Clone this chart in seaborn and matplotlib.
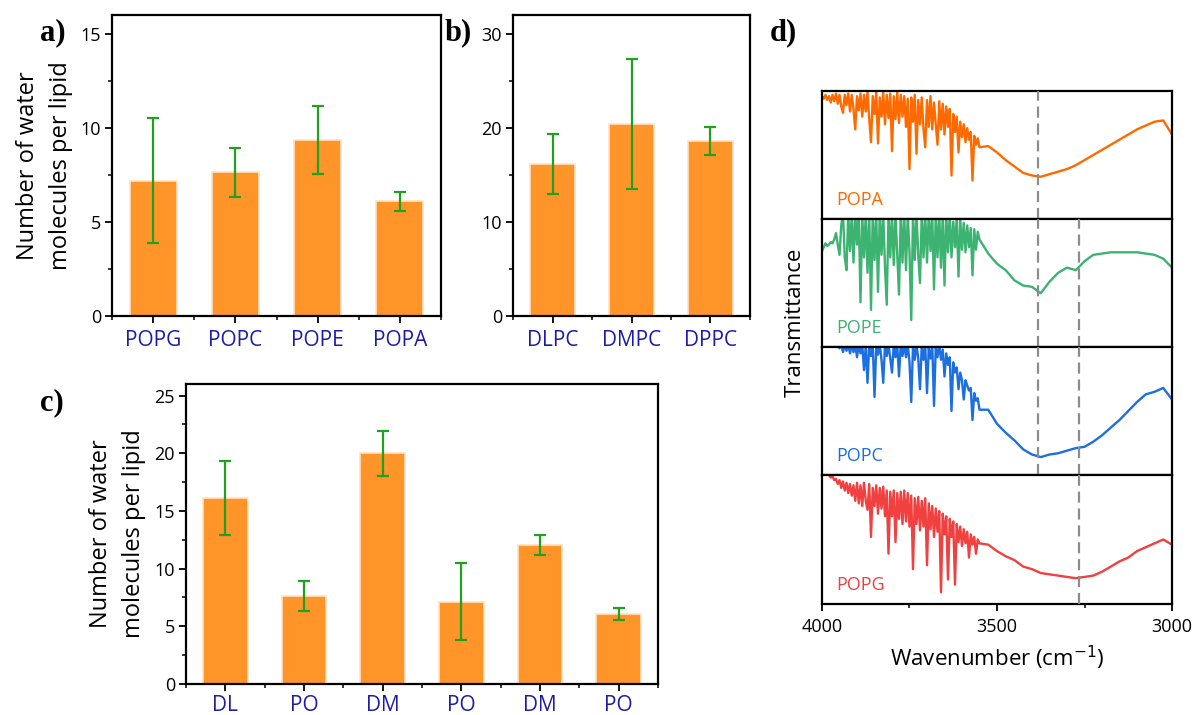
import numpy as np
import pandas as pd
import matplotlib
matplotlib.use('Agg')
import matplotlib.pyplot as plt
import seaborn as sns
from matplotlib.ticker import FixedLocator, MultipleLocator

# ---------------- data ----------------
a_labels = ['POPG', 'POPC', 'POPE', 'POPA']
a_values = [7.2, 7.65, 9.35, 6.1]
a_errors = [3.3, 1.3, 1.8, 0.5]

b_labels = ['DLPC', 'DMPC', 'DPPC']
b_values = [16.2, 20.4, 18.6]
b_errors = [3.2, 6.95, 1.45]

c_labels = ['DL', 'PO', 'DM', 'PO', 'DM', 'PO']
c_values = [16.15, 7.6, 20.0, 7.15, 12.05, 6.1]
c_errors = [3.2, 1.3, 1.95, 3.35, 0.85, 0.52]

# wavenumber sampling grid (cm-1)
wn_noisy = list(range(4000, 3549, -5))      # 91 points
wn_smooth = list(range(3525, 2999, -25))    # 22 points
wavenumber = wn_noisy + wn_smooth

# transmittance traces (relative, 0 = panel bottom, 1 = panel top)
popa_t = [0.96, 0.94, 0.97, 0.93, 0.96, 0.91, 0.97, 0.92, 0.98, 0.90,
          0.97, 0.88, 0.83, 0.97, 0.89, 0.98, 0.84, 0.97, 0.86, 0.70,
          0.96, 0.85, 0.98, 0.80, 0.97, 0.84, 0.99, 0.78, 0.60, 0.96,
          0.82, 0.99, 0.59, 0.95, 0.80, 0.99, 0.74, 0.97, 0.79, 0.98,
          0.53, 0.96, 0.78, 0.99, 0.75, 0.97, 0.80, 0.96, 0.72, 0.94,
          0.39, 0.95, 0.76, 0.97, 0.51, 0.93, 0.74, 0.95, 0.70, 0.56,
          0.93, 0.72, 0.96, 0.70, 0.91, 0.74, 0.58, 0.92, 0.70, 0.90,
          0.66, 0.88, 0.72, 0.86, 0.34, 0.82, 0.68, 0.80, 0.52, 0.76,
          0.64, 0.74, 0.60, 0.71, 0.62, 0.68, 0.30, 0.65, 0.58, 0.63,
          0.56,
          0.57, 0.52, 0.46, 0.41, 0.36, 0.34, 0.33, 0.35, 0.37, 0.39,
          0.42, 0.46, 0.50, 0.54, 0.58, 0.62, 0.66, 0.70, 0.73, 0.76,
          0.77, 0.66]
pope_t = [0.75, 0.78, 0.81, 0.79, 0.80, 0.82, 0.81, 0.84, 0.89, 0.80,
          0.72, 0.95, 1.04, 0.70, 0.60, 1.04, 0.75, 1.04, 0.66, 1.04,
          0.80, 1.04, 0.35, 1.04, 0.70, 1.04, 0.58, 1.04, 0.29, 1.04,
          0.68, 1.04, 0.43, 1.04, 0.72, 1.04, 0.62, 0.33, 1.04, 0.70,
          1.04, 0.64, 1.04, 0.72, 0.41, 1.04, 0.66, 1.04, 0.60, 1.04,
          0.74, 0.21, 1.04, 0.68, 1.04, 0.72, 0.50, 1.04, 0.70, 1.04,
          0.66, 1.04, 0.75, 1.04, 0.45, 1.04, 0.70, 1.04, 0.62, 1.04,
          0.48, 1.04, 0.74, 1.04, 0.70, 0.98, 0.78, 1.02, 0.55, 1.00,
          0.76, 0.97, 0.74, 0.95, 0.78, 0.93, 0.56, 0.92, 0.76, 0.90,
          0.84,
          0.73, 0.65, 0.60, 0.52, 0.48, 0.47, 0.42, 0.51, 0.58, 0.62,
          0.60, 0.67, 0.72, 0.73, 0.74, 0.74, 0.74, 0.74, 0.73, 0.72,
          0.69, 0.62]
popc_t = [1.08, 1.08, 1.07, 1.07, 1.06, 1.05, 1.04, 1.03, 1.02, 1.01,
          0.99, 1.02, 0.96, 1.02, 0.97, 1.02, 0.95, 1.02, 0.96, 1.02,
          0.92, 1.02, 0.95, 1.02, 0.82, 1.01, 0.72, 1.02, 0.93, 1.02,
          0.61, 1.00, 0.94, 1.02, 0.90, 0.72, 1.02, 0.93, 1.02, 0.91,
          0.80, 1.02, 0.92, 1.02, 0.77, 1.02, 0.93, 1.02, 0.92, 1.02,
          0.88, 0.57, 1.01, 0.90, 1.02, 0.91, 0.67, 1.01, 0.90, 1.02,
          0.64, 0.99, 0.91, 1.02, 0.54, 1.00, 0.92, 1.02, 0.90, 0.98,
          0.77, 0.95, 0.86, 0.92, 0.50, 0.88, 0.80, 0.84, 0.67, 0.80,
          0.74, 0.59, 0.74, 0.70, 0.66, 0.68, 0.43, 0.64, 0.58, 0.60,
          0.51,
          0.51, 0.40, 0.33, 0.27, 0.20, 0.16, 0.14, 0.16, 0.17, 0.19,
          0.21, 0.22, 0.26, 0.31, 0.37, 0.43, 0.50, 0.57, 0.63, 0.65,
          0.68, 0.59]
popg_t = [1.10, 1.08, 1.05, 1.02, 1.00, 0.98, 0.99, 0.96, 0.97, 0.93,
          0.96, 0.90, 0.95, 0.88, 0.94, 0.86, 0.93, 0.84, 0.92, 0.80,
          0.94, 0.78, 0.92, 0.76, 0.94, 0.80, 0.73, 0.93, 0.52, 0.90,
          0.76, 0.92, 0.70, 0.90, 0.74, 0.91, 0.68, 0.88, 0.39, 0.87,
          0.68, 0.88, 0.48, 0.86, 0.66, 0.87, 0.62, 0.88, 0.64, 0.86,
          0.60, 0.84, 0.27, 0.82, 0.62, 0.83, 0.57, 0.80, 0.60, 0.82,
          0.30, 0.78, 0.58, 0.76, 0.52, 0.74, 0.56, 0.72, 0.09, 0.70,
          0.54, 0.68, 0.19, 0.66, 0.52, 0.64, 0.15, 0.62, 0.48, 0.60,
          0.45, 0.58, 0.47, 0.56, 0.36, 0.54, 0.46, 0.52, 0.39, 0.50,
          0.47,
          0.46, 0.41, 0.37, 0.34, 0.29, 0.27, 0.24, 0.23, 0.22, 0.21,
          0.20, 0.21, 0.22, 0.25, 0.29, 0.33, 0.36, 0.41, 0.44, 0.47,
          0.50, 0.46]

spectra = [('POPA', popa_t, '#FF6A00'),
           ('POPE', pope_t, '#3CB371'),
           ('POPC', popc_t, '#1C6FE0'),
           ('POPG', popg_t, '#F04040')]
dash_lines = {'POPA': [3383], 'POPE': [3383, 3267], 'POPC': [3383, 3267], 'POPG': [3267]}

# ---------------- style ----------------
sns.set_style('ticks')
plt.rcParams['font.family'] = ['Open Sans', 'DejaVu Sans']
plt.rcParams['axes.linewidth'] = 1.6
plt.rcParams['xtick.major.width'] = 1.3
plt.rcParams['ytick.major.width'] = 1.3
plt.rcParams['xtick.minor.width'] = 1.1
plt.rcParams['ytick.minor.width'] = 1.1
plt.rcParams['axes.edgecolor'] = 'black'
plt.rcParams['text.color'] = 'black'
plt.rcParams['axes.labelcolor'] = 'black'
plt.rcParams['xtick.color'] = 'black'
plt.rcParams['ytick.color'] = 'black'

BAR = '#FF9429'
BAR_EDGE = '#FFE2C6'
ERR = '#22A022'
NAVY = '#1C1CA8'
W, H = 1198, 715

fig = plt.figure(figsize=(W / 100, H / 100), dpi=100)


def rect(left, top, right, bottom):
    return [left / W, 1 - bottom / H, (right - left) / W, (bottom - top) / H]


def bar_panel(ax, labels, values, errors, ymax, major, xpad=5):
    n = len(labels)
    keys = [str(i) for i in range(n)]
    df = pd.DataFrame({'k': keys, 'v': values})
    sns.barplot(data=df, x='k', y='v', ax=ax, color=BAR, width=0.57,
                edgecolor=BAR_EDGE, linewidth=1.2, saturation=1, zorder=2)
    ax.errorbar(range(n), values, yerr=errors, fmt='none', ecolor=ERR,
                elinewidth=1.6, capsize=4, capthick=1.6, zorder=3)
    ax.set_xlim(-0.5, n - 0.5)
    ax.set_ylim(0, ymax)
    ax.set_xticks(range(n))
    ax.set_xticklabels(labels, color=NAVY, fontsize=15)
    ax.xaxis.set_minor_locator(FixedLocator([i - 0.5 for i in range(n + 1)]))
    ax.yaxis.set_major_locator(MultipleLocator(major))
    ax.yaxis.set_minor_locator(MultipleLocator(major / 2))
    ax.tick_params(axis='both', which='major', direction='out', length=5, labelsize=13)
    ax.tick_params(axis='x', which='major', pad=xpad, labelsize=15)
    ax.tick_params(axis='y', which='major', pad=3)
    ax.tick_params(axis='both', which='minor', direction='out', length=3)
    ax.set_xlabel('')
    ax.set_ylabel('')
    for s in ax.spines.values():
        s.set_visible(True)
        s.set_linewidth(1.6)


# panel a
ax_a = fig.add_axes(rect(112, 15, 441, 316))
bar_panel(ax_a, a_labels, a_values, a_errors, 16, 5)
ax_a.set_ylabel('Number of water\nmolecules per lipid', fontsize=17,
                linespacing=1.5, va='center')
ax_a.yaxis.set_label_coords(-0.205, 0.5)

# panel b
ax_b = fig.add_axes(rect(513, 15, 750, 316))
bar_panel(ax_b, b_labels, b_values, b_errors, 32, 10)

# panel c
ax_c = fig.add_axes(rect(186, 384, 658, 684))
bar_panel(ax_c, c_labels, c_values, c_errors, 26, 5, xpad=3)
ax_c.set_ylabel('Number of water\nmolecules per lipid', fontsize=17,
                linespacing=1.5, va='center')
ax_c.yaxis.set_label_coords(-0.146, 0.5)

# panel d
tops = [91, 219, 347, 475, 604]
for i, (name, vals, col) in enumerate(spectra):
    ax = fig.add_axes(rect(822, tops[i], 1172, tops[i + 1]))
    sns.lineplot(x=wavenumber, y=vals, ax=ax, color=col, linewidth=1.7, zorder=2)
    for xv in dash_lines[name]:
        ax.axvline(xv, color='#8C8C8C', linewidth=1.6, linestyle=(0, (5, 2.6)), zorder=3)
    ax.set_xlim(4000, 3000)
    ax.set_ylim(0, 1)
    ax.set_yticks([])
    ax.set_ylabel('')
    ax.text(0.04, 0.15, name, transform=ax.transAxes, color=col, fontsize=13,
            ha='left', va='center')
    for s in ax.spines.values():
        s.set_visible(True)
        s.set_linewidth(1.6)
    if i < 3:
        ax.tick_params(axis='x', which='both', bottom=False, labelbottom=False)
    else:
        ax.set_xticks([4000, 3500, 3000])
        ax.xaxis.set_minor_locator(FixedLocator([3750, 3250]))
        ax.tick_params(axis='x', which='major', direction='out', length=5, labelsize=13, pad=5)
        ax.tick_params(axis='x', which='minor', direction='out', length=3)
        ax.set_xlabel('Wavenumber (cm$^{-1}$)', fontsize=16, labelpad=6)

fig.text(795 / W, 1 - 322 / H, 'Transmittance', rotation=90, fontsize=16,
         ha='center', va='center')

# panel labels
for txt, x, y in [('a)', 40, 40), ('b)', 445, 40), ('c)', 40, 410), ('d)', 770, 40)]:
    fig.text(x / W, 1 - y / H, txt, fontsize=22, fontweight='bold',
             family=['Liberation Serif', 'DejaVu Serif'], ha='left', va='baseline')

fig.savefig('out.png', dpi=100)
